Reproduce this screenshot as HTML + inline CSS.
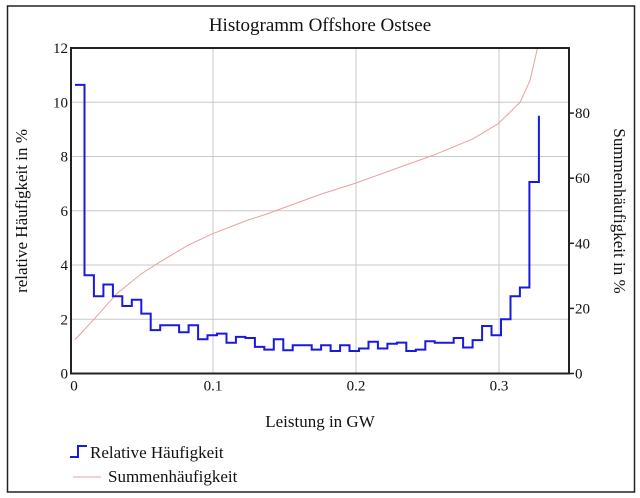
<!DOCTYPE html>
<html><head><meta charset="utf-8"><style>
body{margin:0;background:#fff;}
svg{display:block;font-family:"Liberation Serif",serif;}
</style></head><body>
<svg id="chart" width="640" height="498" viewBox="0 0 640 498">
<rect x="7.5" y="6" width="627" height="486" fill="#fff" stroke="#222" stroke-width="1.5"/>
<text x="320" y="31" font-size="19" text-anchor="middle" fill="#111">Histogramm Offshore Ostsee</text>
<g id="grid"></g>
<g id="series"></g>
<rect x="71" y="48" width="498" height="325.5" fill="none" stroke="#222" stroke-width="2"/>
<g id="axes"></g>
<text x="320" y="427" font-size="17" text-anchor="middle" fill="#111">Leistung in GW</text>
<text transform="translate(27,211) rotate(-90)" font-size="17" text-anchor="middle" fill="#111">relative Häufigkeit in %</text>
<text transform="translate(614,211) rotate(90)" font-size="17" text-anchor="middle" fill="#111">Summenhäufigkeit in %</text>
<g>
<path d="M70,457 H78 V446 H87" fill="none" stroke="#1a1adf" stroke-width="2"/>
<text x="90" y="458" font-size="17" fill="#111">Relative Häufigkeit</text>
<line x1="73" y1="477" x2="101" y2="477" stroke="#e8a0a0" stroke-width="1"/>
<text x="108" y="482" font-size="17" fill="#111">Summenhäufigkeit</text>
</g>
</svg>
<script>
const relValues=[10.64,3.62,2.85,3.28,2.85,2.49,2.72,2.21,1.60,1.78,1.78,1.52,1.78,1.26,1.41,1.47,1.13,1.35,1.31,0.98,0.88,1.26,0.86,1.04,1.04,0.88,1.04,0.83,1.04,0.83,0.92,1.17,0.92,1.10,1.14,0.83,0.88,1.19,1.13,1.13,1.31,0.96,1.23,1.75,1.41,2.0,2.85,3.17,7.06];
const relLast=9.5;
const binStart=0.0035, binWidth=0.00662;
const cumX=[0.0035,0.0163,0.0326,0.0501,0.0629,0.0825,0.0993,0.1236,0.1376,0.1748,0.1998,0.2308,0.2538,0.2818,0.2993,0.3147,0.3217,0.3280];
const cumY=[10.4,16.4,24.5,30.7,34.3,39.4,42.9,47.0,49.0,55.0,58.5,63.4,67.0,72.1,76.7,83.3,90.0,102];
const xTicks=[0,0.1,0.2,0.3];
const xTickLabels=["0","0.1","0.2","0.3"];
const yTicks=[0,2,4,6,8,10,12];
const y2Ticks=[0,20,40,60,80];
const NS="http://www.w3.org/2000/svg";
const L=71,R=569,T=48,B=373.5;
const sx=v=>70+v*1430;
const sy=v=>B-(B-T)*v/12;
const sy2=v=>B-(B-T)*v/100;
function mk(tag,attrs,parent){const e=document.createElementNS(NS,tag);for(const k in attrs)e.setAttribute(k,attrs[k]);parent.appendChild(e);return e;}
const grid=document.getElementById('grid'),axes=document.getElementById('axes'),ser=document.getElementById('series');
xTicks.forEach((t,i)=>{
 if(t>0){const g=mk('line',{x1:sx(t),x2:sx(t),y1:T,y2:B,stroke:'#c8c8c8','stroke-width':1},grid);
 
 }
 const tx=mk('text',{x:sx(t)+(t===0?4:0),y:B+17,'font-size':15,'text-anchor':'middle',fill:'#111'},axes);
 tx.textContent=xTickLabels[i];
 
 
});
yTicks.forEach(t=>{
 if(t>0&&t<12){const g=mk('line',{x1:L,x2:R,y1:sy(t),y2:sy(t),stroke:'#c8c8c8','stroke-width':1},grid);
 
 }
 const tx=mk('text',{x:68,y:sy(t)+5,'font-size':15,'text-anchor':'end',fill:'#111'},axes);
 tx.textContent=String(t);
 
 
});
y2Ticks.forEach(t=>{
 const tk=mk('line',{x1:R,x2:R+5,y1:sy2(t),y2:sy2(t),stroke:'#222','stroke-width':1.5},axes);
 
 
 const tx=mk('text',{x:R+6,y:sy2(t)+5,'font-size':15,fill:'#111'},axes);
 tx.textContent=String(t);
 
 
});
// cumulative curve
let cd='';cumX.forEach((x,i)=>{cd+=(i?'L':'M')+sx(x).toFixed(1)+','+sy2(cumY[i]).toFixed(1);});
const cp=mk('path',{d:cd,fill:'none',stroke:'#e8a0a0','stroke-width':1,'clip-path':'url(#clip)'},ser);


const defs=mk('defs',{},ser);const cl=mk('clipPath',{id:'clip'},defs);mk('rect',{x:L,y:T,width:R-L,height:B-T},cl);
// step histogram
let d='';relValues.forEach((v,i)=>{const x0=sx(binStart+i*binWidth),x1=sx(binStart+(i+1)*binWidth);d+=(i?'L':'M')+x0.toFixed(1)+','+sy(v).toFixed(1)+'L'+x1.toFixed(1)+','+sy(v).toFixed(1);});
d+='L'+sx(binStart+relValues.length*binWidth).toFixed(1)+','+sy(relLast).toFixed(1);
const sp=mk('path',{d:d,fill:'none',stroke:'#1a1adf','stroke-width':2},ser);


</script>
</body></html>
